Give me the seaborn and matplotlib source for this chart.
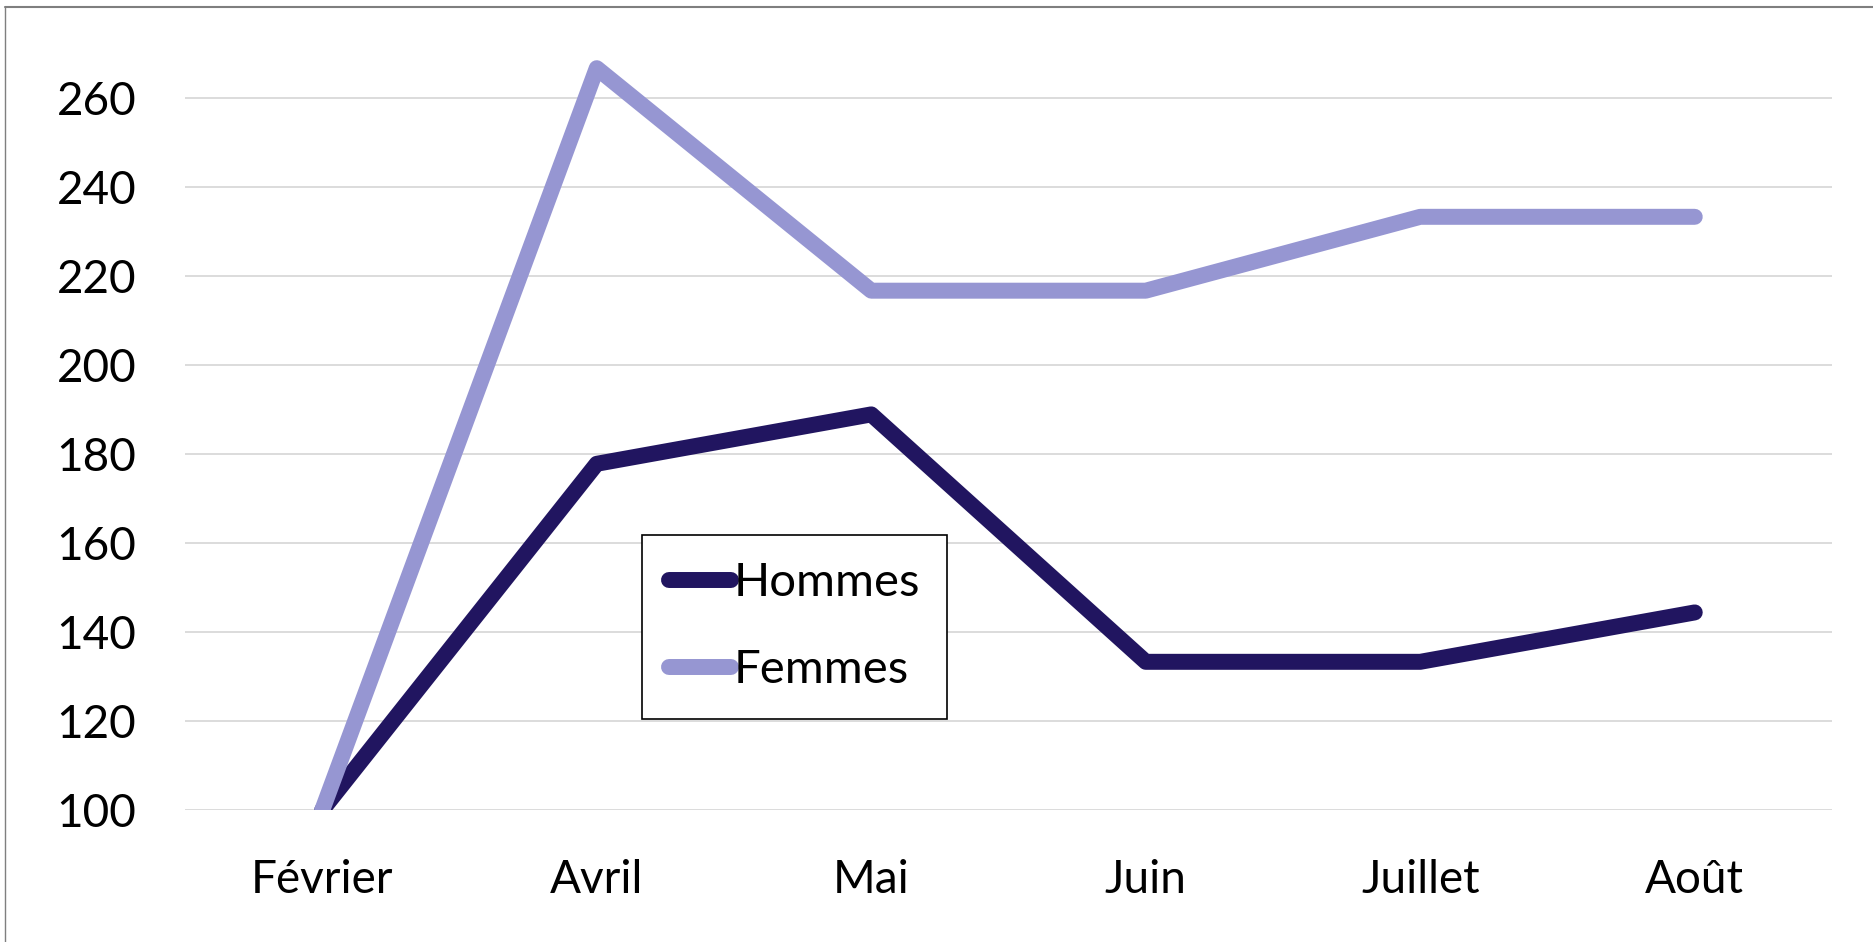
import matplotlib
matplotlib.use("Agg")
import matplotlib.pyplot as plt
import seaborn as sns
import pandas as pd
from matplotlib.lines import Line2D

months = ["Février", "Avril", "Mai", "Juin", "Juillet", "Août"]
hommes = [100.0, 177.8, 188.9, 133.3, 133.3, 144.4]
femmes = [100.0, 266.7, 216.7, 216.7, 233.3, 233.3]
series_names = ["Hommes", "Femmes"]
colors = ["#211560", "#9696D2"]
yticks = [100, 120, 140, 160, 180, 200, 220, 240, 260]

df = pd.DataFrame({
    "mois": months * 2,
    "x": list(range(len(months))) * 2,
    "valeur": hommes + femmes,
    "serie": [series_names[0]] * len(months) + [series_names[1]] * len(months),
})

sns.set_theme(style="white")
plt.rcParams["font.family"] = ["Lato", "DejaVu Sans"]
plt.rcParams["text.color"] = "black"

fig = plt.figure(figsize=(18.74, 9.42), dpi=100)
ax = fig.add_axes([185 / 1874, 1 - 810 / 942, 1647 / 1874, (810 - 31.25) / 942])

sns.lineplot(data=df, x="x", y="valeur", hue="serie", palette=colors,
             hue_order=series_names, ax=ax, linewidth=11.5, legend=False,
             sort=False)
for ln in ax.get_lines():
    ln.set_solid_capstyle("round")
    ln.set_solid_joinstyle("round")
    ln.set_zorder(3)

ax.set_xlim(-0.5, len(months) - 0.5)
ax.set_ylim(100, 275)
ax.set_xticks(range(len(months)))
ax.set_xticklabels(months)
ax.set_yticks(yticks)
ax.set_yticklabels([str(t) for t in yticks])
ax.set_xlabel("")
ax.set_ylabel("")
ax.tick_params(axis="both", length=0, labelsize=33, colors="black")
ax.tick_params(axis="x", pad=35)
ax.tick_params(axis="y", pad=35)
for s in ax.spines.values():
    s.set_visible(False)
ax.grid(axis="y", color="#D9D9D9", linewidth=1.3, zorder=0)
ax.grid(axis="x", visible=False)
ax.set_axisbelow(True)

handles = [Line2D([0], [0], color=c, linewidth=11.5, solid_capstyle="round")
           for c in colors]
leg = fig.legend(handles, series_names, loc="upper left",
                 bbox_to_anchor=(642 / 1874, 1 - 535 / 942),
                 fontsize=34, frameon=True, fancybox=False, shadow=False,
                 handlelength=1.3, handletextpad=0.05, labelspacing=0.95,
                 borderpad=0.58, borderaxespad=0, labelcolor="black")
leg.get_frame().set_edgecolor("black")
leg.get_frame().set_linewidth(1.2)
leg.get_frame().set_facecolor("white")
leg.get_frame().set_alpha(1)

# outer chart border (top and left visible)
fig.add_artist(Line2D([5 / 1874, 1], [1 - 7 / 942, 1 - 7 / 942],
                      transform=fig.transFigure, color="#7F7F7F", linewidth=1.5))
fig.add_artist(Line2D([5 / 1874, 5 / 1874], [0, 1 - 7 / 942],
                      transform=fig.transFigure, color="#7F7F7F", linewidth=1.0))

fig.savefig("out.png", dpi=100, facecolor="white")
